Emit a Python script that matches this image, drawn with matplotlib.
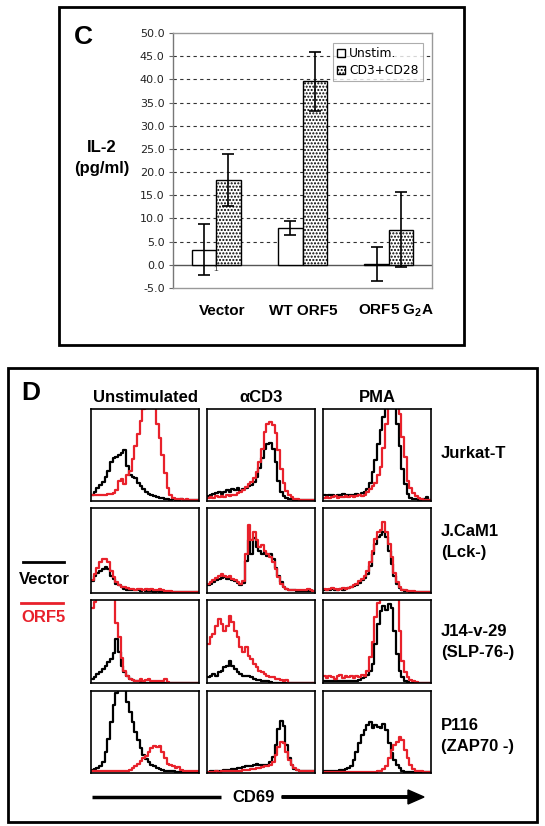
import numpy as np
import matplotlib
matplotlib.use("Agg")
import matplotlib.pyplot as plt
from matplotlib.patches import Rectangle, FancyArrow

plt.rcParams['font.family'] = ['Liberation Sans', 'DejaVu Sans']
plt.rcParams['mathtext.fontset'] = 'custom'
plt.rcParams['mathtext.bf'] = 'Liberation Sans:bold'
plt.rcParams['mathtext.rm'] = 'Liberation Sans'
plt.rcParams['hatch.linewidth'] = 1.0

# ---------------- Panel C data ----------------
groups = ["Vector", "WT ORF5", r"ORF5 G$_\mathbf{2}$A"]
series_names = ["Unstim.", "CD3+CD28"]
unstim_mean = [3.3, 8.0, 0.2]
unstim_err = [5.6, 1.5, 3.7]
cd3_mean = [18.2, 39.6, 7.6]
cd3_err = [5.6, 6.4, 8.1]
y_ticks = [-5, 0, 5, 10, 15, 20, 25, 30, 35, 40, 45, 50]

# ---------------- Panel D data (CD69 histograms, % of panel height, 40 bins) ----------------
col_titles = ["Unstimulated", "\u03b1CD3", "PMA"]
row_titles = [["Jurkat-T"], ["J.CaM1", "(Lck-)"], ["J14-v-29", "(SLP-76-)"], ["P116", "(ZAP70 -)"]]

jurkat_unstim_vec = [7,10,14,17,21,26,33,42,47,48,50,52,55,38,28,26,25,20,16,13,10,8,7,5,4,3,3,2,2,1,2,1,1,2,1,1,1,1,1,1]
jurkat_unstim_orf = [7,6,6,7,6,7,8,8,9,12,22,24,18,28,33,46,60,73,87,100,118,120,118,112,84,68,50,30,14,6,3,2,2,2,1,2,1,1,1,1]
jurkat_cd3_vec = [5,7,8,9,10,8,10,12,10,13,12,14,11,13,14,16,17,21,26,36,47,56,62,63,57,42,22,10,5,3,2,2,1,1,1,1,1,1,1,1]
jurkat_cd3_orf = [3,4,3,5,4,5,4,6,5,7,7,9,10,12,15,18,21,25,31,42,57,75,84,86,83,74,55,35,20,11,6,4,2,2,1,1,1,1,1,1]
jurkat_pma_vec = [6,5,7,6,5,7,6,8,6,7,6,7,8,7,9,10,13,20,32,45,62,77,91,108,120,125,118,84,60,35,18,8,3,2,2,1,1,2,4,1]
jurkat_pma_orf = [3,4,3,4,5,3,4,4,5,4,5,4,5,6,5,7,10,13,16,20,28,37,58,84,110,125,130,120,95,70,48,22,14,9,5,3,2,1,1,1]

jcam_unstim_vec = [14,20,24,26,28,31,28,20,17,11,9,7,5,4,3,3,3,3,2,3,2,2,2,1,2,1,1,1,1,1,1,1,1,1,1,1,1,1,1,1]
jcam_unstim_orf = [15,22,30,36,40,40,36,26,19,13,9,7,7,6,5,5,4,5,5,4,5,4,5,4,4,5,3,2,2,2,1,1,1,1,1,1,1,1,1,1]
jcam_cd3_vec = [9,11,13,15,17,18,19,17,16,15,14,12,10,12,38,62,46,65,54,50,46,48,44,46,40,30,20,13,7,5,4,3,3,2,2,2,2,2,2,2]
jcam_cd3_orf = [11,13,15,18,20,22,20,19,20,17,15,13,11,14,46,80,62,72,62,54,56,50,46,42,36,28,19,11,7,5,4,3,3,3,3,3,4,5,3,2]
jcam_pma_vec = [4,3,4,5,4,4,5,4,5,6,7,8,9,12,15,18,22,32,46,58,66,68,72,66,50,34,20,11,6,3,2,2,1,1,1,1,1,1,1,1]
jcam_pma_orf = [5,4,5,6,5,4,5,6,5,6,7,9,11,14,17,20,26,36,50,64,72,74,83,72,58,42,24,13,7,4,3,2,2,2,1,1,1,1,1,1]

j14_unstim_vec = [5,7,11,13,17,21,25,29,36,53,37,21,13,8,5,4,2,2,1,0,0,0,0,0,0,0,0,0,0,0,0,0,0,0,0,0,0,0,0,0]
j14_unstim_orf = [90,97,130,130,130,130,130,130,115,72,55,30,14,8,5,4,3,3,5,3,4,5,3,2,2,2,3,5,1,0,0,0,0,0,0,0,0,0,0,0]
j14_cd3_vec = [7,9,11,9,13,15,19,21,27,21,17,13,11,9,9,8,7,5,4,4,3,2,2,1,0,0,0,0,0,0,0,0,0,0,0,0,0,0,0,0]
j14_cd3_orf = [47,55,59,69,77,71,63,69,81,73,63,55,43,37,43,33,29,23,19,15,13,11,9,7,7,5,5,4,3,4,0,0,0,0,0,0,0,0,0,0]
j14_pma_vec = [2,2,3,2,2,3,2,2,3,2,2,3,3,4,6,7,10,15,23,47,71,87,93,88,95,90,63,35,15,7,3,1,0,0,0,0,0,0,0,0]
j14_pma_orf = [8,6,9,7,5,8,10,6,8,7,9,6,8,7,10,9,15,31,50,80,96,112,125,130,128,126,122,110,63,27,13,7,4,2,1,0,0,0,0,0]

p116_unstim_vec = [4,5,6,8,14,26,42,62,83,98,115,120,108,87,75,62,50,40,30,22,17,13,10,8,6,5,4,3,2,2,2,1,1,1,1,1,1,1,1,1]
p116_unstim_orf = [3,2,3,3,2,3,3,2,3,3,3,2,3,3,4,6,8,11,15,18,21,26,31,33,32,33,26,18,11,10,8,6,7,4,3,2,2,2,2,2]
p116_cd3_vec = [1,2,2,3,3,3,4,4,4,5,5,6,6,7,8,8,9,10,11,10,10,10,10,14,20,34,54,63,57,34,18,10,5,4,3,2,2,2,2,2]
p116_cd3_orf = [1,1,1,2,1,2,2,2,2,2,3,3,3,4,4,4,5,5,6,6,7,8,9,10,14,22,32,38,36,26,16,10,6,4,3,2,2,2,2,2]
p116_pma_vec = [2,2,3,3,3,3,4,4,5,6,9,16,26,36,46,52,58,62,55,58,56,55,60,52,36,24,16,10,6,3,1,1,1,1,1,1,1,1,1,1]
p116_pma_orf = [1,1,1,1,1,1,1,1,1,1,1,1,1,1,1,1,1,1,1,1,2,3,5,9,18,28,34,38,44,40,28,18,10,5,3,2,2,1,1,1]

hist_vec = [[jurkat_unstim_vec, jurkat_cd3_vec, jurkat_pma_vec],
            [jcam_unstim_vec, jcam_cd3_vec, jcam_pma_vec],
            [j14_unstim_vec, j14_cd3_vec, j14_pma_vec],
            [p116_unstim_vec, p116_cd3_vec, p116_pma_vec]]
hist_orf = [[jurkat_unstim_orf, jurkat_cd3_orf, jurkat_pma_orf],
            [jcam_unstim_orf, jcam_cd3_orf, jcam_pma_orf],
            [j14_unstim_orf, j14_cd3_orf, j14_pma_orf],
            [p116_unstim_orf, p116_cd3_orf, p116_pma_orf]]

W, H = 545, 826
fig = plt.figure(figsize=(W / 100, H / 100), dpi=100)
fig.patch.set_facecolor('white')


def rect(l, t, r, b):
    return [l / W, 1 - b / H, (r - l) / W, (b - t) / H]


# overlay axes in pixel coordinates
ov = fig.add_axes([0, 0, 1, 1], zorder=0)
ov.set_xlim(0, W)
ov.set_ylim(H, 0)
ov.axis('off')

# ---------------- Panel C ----------------
ov.add_patch(Rectangle((59, 7), 405, 338, fill=False, lw=2, ec='black'))
ov.text(83, 37, "C", fontsize=19, fontweight='bold', ha='center', va='center')
ov.text(102, 148, "IL-2", fontsize=12, fontweight='bold', ha='center', va='center')
ov.text(102, 168, "(pg/ml)", fontsize=12, fontweight='bold', ha='center', va='center')

axc = fig.add_axes(rect(173, 33, 432, 288), zorder=2)
x = np.arange(len(groups))
bw = 0.284
axc.bar(x - bw / 2, unstim_mean, bw, color='white', edgecolor='black', lw=1.0, zorder=3,
        label=series_names[0])
axc.bar(x + bw / 2, cd3_mean, bw, color='white', edgecolor='black', lw=1.0, hatch='.....',
        zorder=3, label=series_names[1])
axc.errorbar(x - bw / 2, unstim_mean, yerr=unstim_err, fmt='none', ecolor='black', elinewidth=1.2,
             capsize=4, capthick=1.2, zorder=4)
axc.errorbar(x + bw / 2, cd3_mean, yerr=cd3_err, fmt='none', ecolor='black', elinewidth=1.2,
             capsize=4, capthick=1.2, zorder=4)
axc.set_xlim(-0.5, 2.5)
axc.set_ylim(-5, 50)
axc.set_yticks(y_ticks)
axc.set_yticklabels([f"{v:.1f}" for v in y_ticks], fontsize=8, family='DejaVu Sans', color='#222222')
axc.tick_params(axis='y', length=3, width=0.8, color='#666666', pad=3)
axc.set_xticks([])
for yv in y_ticks[2:-1]:
    axc.axhline(yv, color='#333333', lw=0.8, ls=(0, (3, 3)), zorder=1)
axc.axhline(0, color='#555555', lw=1.0, zorder=2)
for s in axc.spines.values():
    s.set_color('#999999')
    s.set_linewidth(1.0)
axc.spines['left'].set_color('#777777')
axc.text(0.0, -1.0, "1", fontsize=6, ha='center', va='center', color='#333333')
leg = axc.legend(loc='upper right', bbox_to_anchor=(0.965, 0.96),
                 prop={'family': 'DejaVu Sans', 'size': 8.8},
                 handlelength=0.7, handleheight=0.7, handletextpad=0.3, borderpad=0.35,
                 labelspacing=0.3, frameon=True, fancybox=False, borderaxespad=0)
leg.get_frame().set_edgecolor('#999999')
leg.get_frame().set_linewidth(0.8)

cat_x = [222, 303, 396]
for cx, g in zip(cat_x, groups):
    ov.text(cx, 311, g, fontsize=11, fontweight='bold', ha='center', va='center')

# ---------------- Panel D ----------------
ov.add_patch(Rectangle((8, 368), 529, 454, fill=False, lw=2, ec='black'))
ov.text(31, 393, "D", fontsize=19, fontweight='bold', ha='center', va='center')

cols = [(91, 199), (207, 315), (323, 431)]
rows = [(409, 501), (508, 593), (600, 683), (691, 773)]
col_cx = [145, 261, 377]
for cx, t in zip(col_cx, col_titles):
    ov.text(cx, 397, t, fontsize=12, fontweight='bold', ha='center', va='center')

bins = np.arange(40)
red = '#e8212b'
for ri, (t, b) in enumerate(rows):
    for ci, (l, r) in enumerate(cols):
        ax = fig.add_axes(rect(l, t, r, b), zorder=2)
        ax.plot(bins, hist_vec[ri][ci], drawstyle='steps-mid', color='black', lw=1.6)
        ax.plot(bins, hist_orf[ri][ci], drawstyle='steps-mid', color=red, lw=1.6)
        ax.set_xlim(-0.5, 39.5)
        ax.set_ylim(0, 100)
        ax.set_xticks([])
        ax.set_yticks([])
        for s in ax.spines.values():
            s.set_linewidth(1.2)

row_label_y = [[454], [532, 553], [632, 653], [726, 747]]
for labels, ys in zip(row_titles, row_label_y):
    for lab, yy in zip(labels, ys):
        ov.text(441, yy, lab, fontsize=12, fontweight='bold', ha='left', va='center')

# legend of panel D
ov.plot([23, 64], [562, 562], color='black', lw=2)
ov.text(44, 580, "Vector", fontsize=12, fontweight='bold', ha='center', va='center')
ov.plot([21, 63], [603, 603], color=red, lw=2)
ov.text(43, 617, "ORF5", fontsize=12, fontweight='bold', ha='center', va='center', color=red)

# CD69 arrow
ov.plot([92, 221], [797, 797], color='black', lw=2.5, solid_capstyle='butt')
ov.text(254, 797, "CD69", fontsize=12, fontweight='bold', ha='center', va='center')
ov.add_patch(FancyArrow(282, 797, 142, 0, width=2.5, head_width=14, head_length=16,
                        length_includes_head=True, color='black'))

fig.savefig("out.png", dpi=100, facecolor='white')
